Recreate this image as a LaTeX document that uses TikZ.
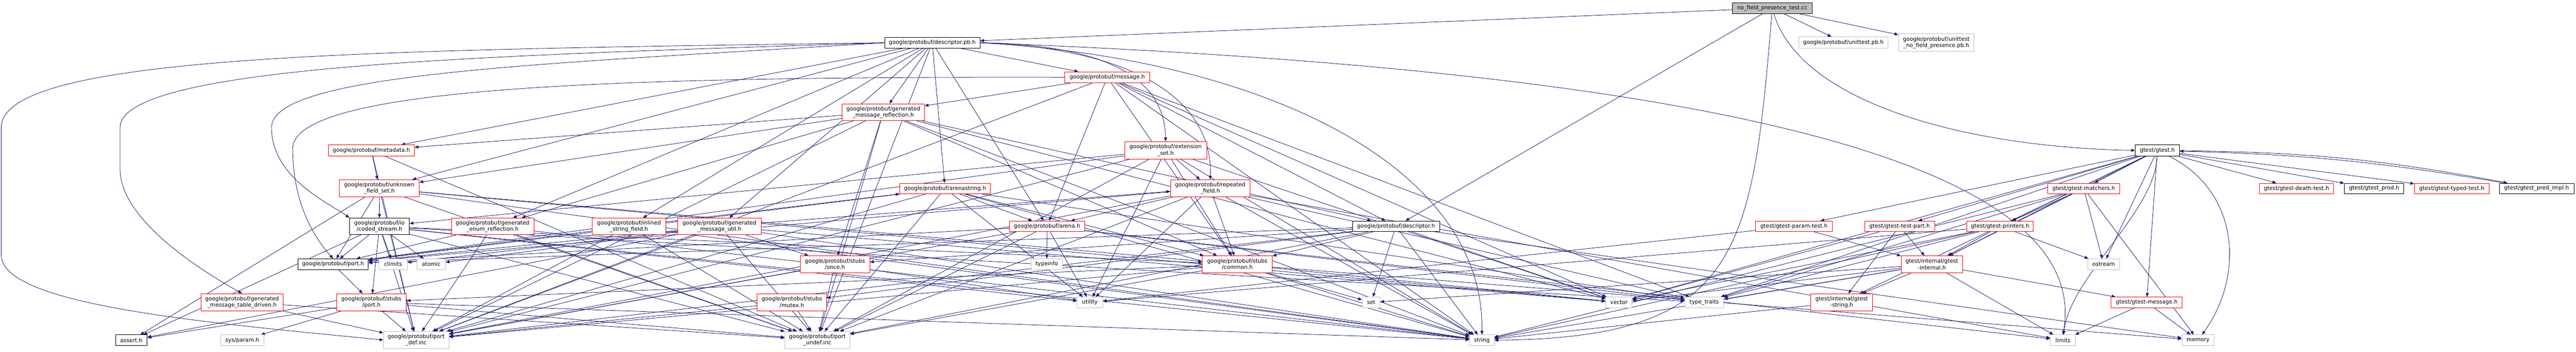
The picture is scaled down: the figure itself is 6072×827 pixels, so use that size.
\documentclass[tikz,border=0pt]{standalone}
\usepackage{fontspec}
\setmainfont{DejaVu Sans}
\usetikzlibrary{arrows.meta}
\definecolor{edgec}{HTML}{191970}
\definecolor{lgray}{HTML}{BFBFBF}
\pgfdeclarelayer{bg}
\pgfsetlayers{bg,main}
\tikzset{
  nb/.style={draw, rectangle, inner sep=0pt, align=center, fill=white,
    font=\fontsize{6.45pt}{7.5pt}\selectfont, line width=0.5pt},
  rbox/.style={nb, draw=red},
  bbox/.style={nb, draw=black},
  gbox/.style={nb, draw=lgray},
  rootbox/.style={nb, draw=black, fill=lgray},
  edge/.style={draw=edgec, line width=0.5pt, -{Triangle[length=4.5pt,width=3.6pt]}}
}
\newcommand\nd[7]{\node[#1, minimum width={(#5-#3)*0.5pt}, minimum height={(#6-#4)*0.5pt}] (#2) at ({(#3+#5)/2},{(#4+#6)/2}) {#7};}
\begin{document}
\begin{tikzpicture}[x=0.5pt,y=-0.5pt]
\useasboundingbox (0,0) rectangle (6072,827);
% row 0-1
\nd{rootbox}{root}{4083}{6}{4272}{32}{no\_field\_presence\_test.cc}
\nd{bbox}{dpbh}{2085}{88}{2310}{113}{google/protobuf/descriptor.pb.h}
\nd{gbox}{utpb}{4240}{87}{4450}{113}{google/protobuf/unittest.pb.h}
\nd{gbox}{unfp}{4475}{80}{4653}{121}{google/protobuf/unittest\\\_no\_field\_presence.pb.h}
\nd{rbox}{msg}{2510}{169}{2710}{195}{google/protobuf/message.h}
\nd{rbox}{gmr}{1985}{244}{2179}{284}{google/protobuf/generated\\\_message\_reflection.h}
\nd{rbox}{meta}{774}{341}{977}{367}{google/protobuf/metadata.h}
\nd{rbox}{ext}{2651}{333}{2844}{374}{google/protobuf/extension\\\_set.h}
\nd{bbox}{gtest}{5033}{341}{5137}{367}{gtest/gtest.h}
% row 431
\nd{rbox}{ufs}{800}{423}{988}{463}{google/protobuf/unknown\\\_field\_set.h}
\nd{rbox}{astr}{2121}{431}{2334}{456}{google/protobuf/arenastring.h}
\nd{rbox}{rep}{2759}{423}{2946}{463}{google/protobuf/repeated\\\_field.h}
\nd{rbox}{gtm}{4826}{431}{4997}{456}{gtest/gtest-matchers.h}
\nd{rbox}{death}{5325}{431}{5501}{456}{gtest/gtest-death-test.h}
\nd{bbox}{prod}{5526}{431}{5666}{456}{gtest/gtest\_prod.h}
\nd{rbox}{typed}{5691}{431}{5867}{456}{gtest/gtest-typed-test.h}
\nd{bbox}{pred}{5891}{431}{6067}{456}{gtest/gtest\_pred\_impl.h}
% row 532
\nd{bbox}{cs}{824}{513}{965}{552}{google/protobuf/io\\/coded\_stream.h}
\nd{rbox}{ger}{1064}{513}{1258}{552}{google/protobuf/generated\\\_enum\_reflection.h}
\nd{rbox}{isf}{1396}{513}{1569}{552}{google/protobuf/inlined\\\_string\_field.h}
\nd{rbox}{gmu}{1598}{513}{1794}{552}{google/protobuf/generated\\\_message\_util.h}
\nd{rbox}{arena}{2379}{520}{2557}{545}{google/protobuf/arena.h}
\nd{bbox}{dh}{3188}{520}{3393}{545}{google/protobuf/descriptor.h}
\nd{rbox}{gpt}{4138}{520}{4319}{545}{gtest/gtest-param-test.h}
\nd{rbox}{gtp}{4395}{520}{4560}{545}{gtest/gtest-test-part.h}
\nd{rbox}{gpr}{4636}{520}{4793}{545}{gtest/gtest-printers.h}
% row 621
\nd{bbox}{porth}{702}{609}{868}{634}{google/protobuf/port.h}
\nd{gbox}{climits}{893}{609}{960}{634}{climits}
\nd{gbox}{atomic}{983}{609}{1050}{634}{atomic}
\nd{rbox}{once}{1886}{602}{2050}{642}{google/protobuf/stubs\\/once.h}
\nd{gbox}{typeinfo}{2430}{609}{2505}{634}{typeinfo}
\nd{rbox}{common}{2834}{602}{2999}{642}{google/protobuf/stubs\\/common.h}
\nd{rbox}{gti}{4481}{602}{4626}{642}{gtest/internal/gtest\\-internal.h}
\nd{gbox}{ostream}{4921}{609}{4996}{634}{ostream}
% row 711
\nd{rbox}{gmtd}{474}{691}{667}{731}{google/protobuf/generated\\\_message\_table\_driven.h}
\nd{rbox}{sport}{793}{691}{958}{731}{google/protobuf/stubs\\/port.h}
\nd{rbox}{mutex}{1785}{691}{1948}{731}{google/protobuf/stubs\\/mutex.h}
\nd{gbox}{utility}{2539}{699}{2599}{724}{utility}
\nd{gbox}{set}{3211}{699}{3253}{724}{set}
\nd{gbox}{vector}{3785}{699}{3847}{724}{vector}
\nd{gbox}{ttraits}{3971}{699}{4063}{724}{type\_traits}
\nd{rbox}{gts}{4268}{691}{4414}{731}{gtest/internal/gtest\\-string.h}
\nd{rbox}{gtmsg}{4976}{699}{5144}{724}{gtest/gtest-message.h}
% row 800
\nd{bbox}{assert}{272}{788}{347}{813}{assert.h}
\nd{gbox}{sysparam}{520}{788}{622}{813}{sys/param.h}
\nd{gbox}{pdef}{904}{780}{1058}{820}{google/protobuf/port\\\_def.inc}
\nd{gbox}{pundef}{1850}{780}{2003}{820}{google/protobuf/port\\\_undef.inc}
\nd{gbox}{string}{3464}{788}{3522}{813}{string}
\nd{gbox}{limits}{4833}{788}{4892}{813}{limits}
\nd{gbox}{memory}{5143}{788}{5219}{813}{memory}

\begin{pgfonlayer}{bg}
\foreach \a/\b in {root/dpbh, root/utpb, root/unfp, root/dh,
  dpbh/gmr, dpbh/msg, dpbh/astr, dpbh/arena, dpbh/meta, dpbh/ufs, dpbh/ger, dpbh/isf, dpbh/gmu, dpbh/pundef,
  msg/gmr, msg/arena, msg/dh, msg/common, msg/string, msg/ttraits, msg/vector, msg/pdef,
  gmr/meta, gmr/ger, gmr/once, gmr/pundef, gmr/pdef, gmr/ufs, gmr/dh, gmr/common, gmr/string, gmr/vector,
  meta/ufs, meta/pdef, meta/pundef,
  ufs/cs, ufs/porth, ufs/assert, ufs/common, ufs/string, ufs/vector, ufs/pdef, ufs/pundef,
  cs/porth, cs/climits, cs/atomic, cs/assert, cs/sport, cs/common, cs/string, cs/ttraits, cs/utility, cs/pdef, cs/pundef,
  porth/sport,
  sport/assert, sport/sysparam, sport/pdef, sport/pundef, sport/string,
  gmtd/pdef, gmtd/pundef,
  ger/pdef, ger/pundef, ger/string, ger/porth,
  isf/astr, isf/porth, isf/string, isf/pdef, isf/pundef,
  gmu/once, gmu/porth, gmu/string, gmu/vector, gmu/assert, gmu/climits, gmu/atomic, gmu/rep, gmu/pdef, gmu/pundef,
  astr/arena, astr/common, astr/porth, astr/string, astr/ttraits, astr/utility, astr/pdef, astr/pundef,
  arena/typeinfo, arena/utility, arena/limits, arena/ttraits, arena/porth, arena/pdef, arena/pundef,
  rep/arena, rep/common, rep/porth, rep/string, rep/ttraits, rep/utility, rep/limits, rep/pdef, rep/pundef,
  ext/rep, ext/cs, ext/common, ext/porth, ext/string, ext/utility, ext/vector, ext/pdef, ext/pundef,
  dh/set, dh/string, dh/vector, dh/memory, dh/common, dh/mutex, dh/once, dh/porth, dh/pdef, dh/pundef,
  common/sport, common/string, common/vector, common/set, common/memory, common/pdef, common/pundef,
  once/utility, once/pdef, once/pundef,
  mutex/pdef, mutex/pundef,
  gtest/gpt, gtest/gtp, gtest/gpr, gtest/gtm, gtest/gti, gtest/gts, gtest/gtmsg, gtest/death, gtest/prod,
  gtest/typed, gtest/ostream, gtest/vector, gtest/ttraits,
  gtm/gpr, gtm/gti, gtm/ostream, gtm/memory, gtm/string, gtm/ttraits,
  gpr/gti, gpr/ostream, gpr/string, gpr/vector, gpr/utility, gpr/ttraits,
  gti/gts, gti/gtmsg, gti/limits, gti/set, gti/string, gti/vector, gti/ttraits,
  gtp/gti, gtp/gts, gtp/vector,
  gpt/gti, gpt/utility,
  gts/string,
  gtmsg/limits, gtmsg/memory}
  \draw[edge] (\a) -- (\b);
% curved connectors
\draw[edge] (root) .. controls (4240,230) and (4600,345) .. (gtest.west);
\draw[edge] (root) .. controls (4130,600) and (4100,795) .. (string.east);
\draw[edge] (dpbh.east) .. controls (2600,105) and (2745,180) .. (ext.north);
\draw[edge] (dpbh.east) .. controls (2700,115) and (2860,250) .. (rep.north);
\draw[edge] (dpbh.east) .. controls (3600,150) and (4950,300) .. (limits.north);
\draw[edge] (dpbh.east) .. controls (3000,140) and (3500,400) .. (string.north);
\draw[edge] (dpbh.west) .. controls (900,118) and (3,125) .. (3,300) -- (3,600) .. controls (3,720) and (500,760) .. (pdef.west);
\draw[edge] (dpbh.west) .. controls (1200,130) and (283,150) .. (283,300) -- (283,400) .. controls (285,520) and (480,640) .. (gmtd.north);
\draw[edge] (dpbh.west) .. controls (1300,150) and (640,170) .. (640,300) .. controls (640,420) and (780,480) .. (cs.north west);
\draw[edge] (msg.west) .. controls (1500,180) and (690,200) .. (690,350) .. controls (690,500) and (760,580) .. (porth.north);
\draw[edge] (gtest) to[bend left=5] (pred);
\draw[edge] (pred) to[bend right=4] (gtest);
\draw[edge] (gtest) .. controls (5280,450) and (5290,650) .. (memory);
\draw[edge] (gtest) .. controls (5080,500) and (4880,650) .. (limits);
\end{pgfonlayer}
\end{tikzpicture}
\end{document}
